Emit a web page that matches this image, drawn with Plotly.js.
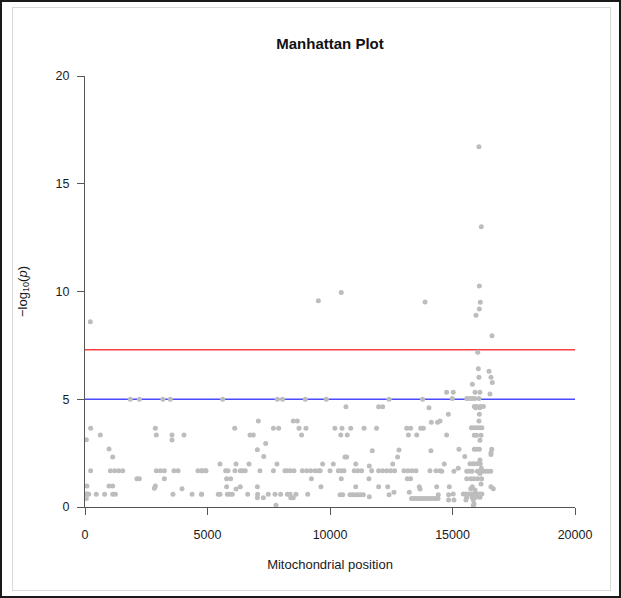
<!DOCTYPE html>
<html>
<head>
<meta charset="utf-8">
<script src="https://cdn.plot.ly/plotly-3.0.1.min.js"></script>
<style>
html,body{margin:0;padding:0;background:#fff;}
#frame{position:absolute;left:0;top:0;width:621px;height:598px;box-sizing:border-box;border:2px solid #1a1a1a;}
#inner{position:absolute;left:12px;top:7px;width:599px;height:584px;box-sizing:border-box;border:1px solid #d9d9d9;}
#chart{position:absolute;left:0;top:0;width:621px;height:598px;}
</style>
</head>
<body>
<div id="frame"></div>
<div id="inner"></div>
<div id="chart"></div>
<script>
// Mitochondrial positions and -log10(p) values
const positions = [
 55,80,55,70,150,230,230,217,460,625,800,980,980,1035,1130,1130,1130,1210,1240,1375,1540,1850,2120,2220,2220,2830,2870,2870,2910,2910,3075,3180,3240,3240,3480,3550,3550,3590,3630,3800,3960,4040,4370,4610,4750,4775,4940,
 4760,4900,4760,5440,5510,5510,5620,5740,5780,5780,5810,5835,5920,5945,6010,6110,6120,6165,6165,6340,6340,6430,6540,6640,6695,6735,6870,7035,7035,7045,7035,7075,7140,7280,7295,7375,7480,7690,7690,7755,7795,7835,7850,7905,7985,8065,8160,8260,8260,8370,8370,8400,8500,8500,8530,8610,8665,8735,8840,8870,8990,9020,9045,9090,9210,9240,9390,9525,9540,9630,9700,9850,9600,10000,
 10135,10200,10340,10410,10440,10460,10460,10460,10490,10520,10570,10610,10650,10680,10705,10815,10845,10925,10990,11030,11050,11050,11140,11140,11250,11290,11360,11390,11590,11605,11605,11700,11725,11900,11985,11985,11985,12150,12150,12315,12355,12410,12410,12475,12560,12610,12640,12760,12815,13020,13130,13155,13185,13200,13235,13290,13290,13345,13510,13540,13645,13675,13700,13780,13810,13880,14040,14080,14120,14135,14325,14355,14390,14420,14490,14490,14665,14760,14760,14830,14840,14840,14870,
 13330,13420,13510,13600,13690,13780,13870,13960,14050,14140,14230,14320,14410,
 14560,14990,15030,15030,15060,15060,15235,15265,15440,15500,15550,15550,15580,15580,15580,15580,15660,15690,15690,15715,15745,15745,15770,15770,15800,15800,15800,15810,15810,15850,15850,15850,15880,15880,15880,15880,15890,15890,15890,15900,15920,15920,15945,15960,15960,15985,15985,15990,15990,15990,15990,16015,16030,16030,16055,16080,16080,16080,16080,16095,16095,16095,16100,16100,16100,16120,16120,16120,16120,16120,16120,16120,16135,16135,16135,16165,16165,16175,16175,16190,16200,16200,16230,16260,16340,16450,16490,16530,16560,16570,16570,16570,16570,16600,16610,16625,16665
];
const logP = [
 3.12,0.97,0.4,0.62,0.59,3.65,1.68,8.6,0.59,3.34,0.59,2.69,0.97,1.68,2.32,0.97,0.59,1.68,0.59,1.68,1.68,5,1.31,5,1.31,0.87,3.65,0.97,3.34,1.68,1.68,5,1.68,1.31,5,3.34,3.11,0.59,1.68,1.68,0.85,3.34,0.59,1.68,0.59,1.68,1.68,
 0.59,1.68,1.68,0.59,0.59,2.0,5,1.68,1.31,0.94,0.59,1.68,0.59,1.31,0.59,3.65,1.68,2.0,0.84,1.68,0.94,1.68,1.68,0.59,2.0,3.34,3.34,2.66,0.94,0.59,0.43,3.99,1.68,0.43,2.34,2.95,0.59,3.65,1.68,0.59,0.08,2.0,5,3.65,0.59,5,1.68,1.68,0.59,1.68,0.59,0.43,3.99,0.43,1.68,0.59,3.99,3.65,3.34,1.68,5,3.65,1.68,0.59,1.68,1.31,1.68,9.57,1.68,0.94,2.0,5,1.68,1.68,
 2.0,3.65,1.68,0.57,3.34,1.68,1.31,9.95,3.65,0.57,1.68,2.32,4.65,2.32,3.34,0.57,3.65,0.57,1.68,0.57,2.0,0.94,1.68,0.57,0.57,1.68,0.57,3.65,1.31,1.9,0.48,1.68,2.61,3.65,4.65,1.68,0.94,4.65,1.68,1.68,0.94,5,0.57,1.68,2.0,0.68,1.68,2.32,2.65,1.68,3.65,1.31,1.68,3.34,0.68,3.65,1.31,1.68,1.68,3.34,0.94,0.84,3.65,5,3.65,9.51,4.6,1.68,2.61,3.93,1.68,0.94,3.93,0.57,1.68,3.99,2.0,5.32,3.34,4.3,0.57,0.32,0.94,
 0.4,0.4,0.4,0.4,0.4,0.4,0.4,0.4,0.4,0.4,0.4,0.4,0.4,
 1.66,5.04,5.32,0.6,1.66,0.32,1.8,2.68,0.6,2.34,0.6,0.32,5.04,1.66,1.31,0.45,0.6,5.04,1.66,2.01,1.31,0.85,3.68,0.6,5.04,1.66,0.45,5.7,0.94,2.01,0.32,0.08,3.68,1.31,0.6,0.14,4.66,3.33,2.68,5.04,5.32,0.79,4.6,8.9,0.45,4.66,3.33,3.68,2.68,2.01,0.6,1.66,7.18,1.31,6.42,16.72,6.02,5.04,3.99,10.25,9.19,4.3,3.68,2.68,0.6,5.32,4.6,3.1,2.18,1.66,1.56,0.45,9.5,4.66,2.01,3.33,1.07,13.0,1.8,1.31,3.68,0.6,1.66,4.66,1.66,1.66,6.3,5.24,1.66,6.02,2.52,2.44,0.94,2.68,7.95,5.78,0.85
];
const thresholdValues = [7.3, 5];
const thresholdColors = ['#ff4040', '#4a4aff'];
const xRange = [0, 20000];
const xTicks = [0, 5000, 10000, 15000, 20000];
const yTicks = [0, 5, 10, 15, 20];

const traces = [];
thresholdValues.forEach((v, i) => {
  traces.push({
    x: xRange, y: [v, v], mode: 'lines', type: 'scatter',
    line: {color: thresholdColors[i], width: 1.5}, hoverinfo: 'skip', showlegend: false
  });
});
traces.push({
  x: positions, y: logP, mode: 'markers', type: 'scatter',
  marker: {color: '#bdbdbd', size: 5}, cliponaxis: false, showlegend: false
});

const axisCommon = {
  showgrid: false, zeroline: false, showline: true, linecolor: '#555', linewidth: 1,
  ticks: 'outside', ticklen: 7, tickcolor: '#555', tickwidth: 1,
  tickfont: {family: 'Liberation Sans, Arial, sans-serif', size: 12.5, color: '#1a1a1a'},
  fixedrange: true
};

const layout = {
  width: 621, height: 598,
  margin: {l: 85, r: 46, t: 76, b: 91},
  paper_bgcolor: 'rgba(0,0,0,0)', plot_bgcolor: 'rgba(0,0,0,0)',
  font: {family: 'Liberation Sans, Arial, sans-serif', color: '#1a1a1a'},
  title: {
    text: '<b>Manhattan Plot</b>', x: 0.5, xref: 'paper',
    y: 1 - 44/598, yref: 'container', yanchor: 'middle',
    font: {family: 'Liberation Sans, Arial, sans-serif', size: 15, color: '#111'}
  },
  xaxis: Object.assign({}, axisCommon, {
    range: xRange, tickvals: xTicks, ticktext: xTicks.map(String), ticklabelstandoff: 9,
    title: {text: 'Mitochondrial position', standoff: 18,
      font: {family: 'Liberation Sans, Arial, sans-serif', size: 13, color: '#1a1a1a'}}
  }),
  yaxis: Object.assign({}, axisCommon, {
    range: [0, 20], tickvals: yTicks, ticktext: yTicks.map(String), ticklabelstandoff: 5,
    title: {text: '\u2212log<sub>10</sub>(<i>p</i>)', standoff: 25,
      font: {family: 'Liberation Sans, Arial, sans-serif', size: 13, color: '#1a1a1a'}}
  })
};

Plotly.newPlot('chart', traces, layout, {displayModeBar: false, staticPlot: true});
</script>
</body>
</html>
